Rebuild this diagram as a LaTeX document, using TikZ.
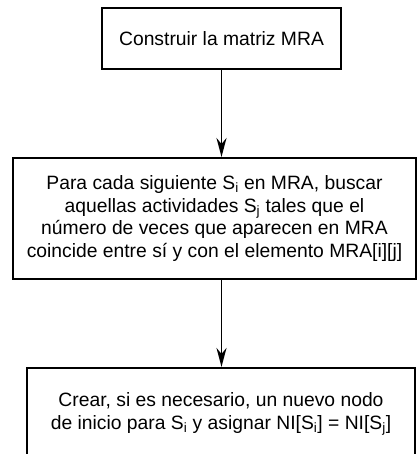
\documentclass[tikz,border=0pt]{standalone}
\usepackage{fontspec}
\setmainfont{Liberation Sans}
\usepackage{tikz}
\usetikzlibrary{arrows.meta, positioning}
\tikzstyle{paso}=[draw, line width=1.9pt, align=center, inner sep=0pt,
    font=\fontsize{19.3}{22.7}\selectfont]
\tikzstyle{flecha}=[line width=1.9pt,
    -{Stealth[length=19pt, width=10pt, inset=6pt]}]
\def\blockdist{88}
\newcommand{\Sub}[1]{S\textsubscript{#1}}

\begin{document}
\begin{tikzpicture}[x=1pt, y=1pt]
    \useasboundingbox (0,0) rectangle (418,-454);
    \clip (0,0) rectangle (418,-454);
    \node (matriz) [paso, minimum width=239pt, minimum height=61pt] at (221.5,-38.5)
        {Construir la matriz MRA};
    \path (matriz.south)+(-7,-\blockdist-60.5) node (buscar) [paso,
        minimum width=403pt, minimum height=121pt]
        {Para cada siguiente \Sub{i} en MRA, buscar\\
         aquellas actividades \Sub{j} tales que el\\
         número de veces que aparecen en MRA\\
         coincide entre sí y con el elemento MRA[i][j]};
    \path (buscar.south)+(6.5,-\blockdist-46) node (crear) [paso,
        minimum width=388pt, minimum height=92pt]
        {Crear, si es necesario, un nuevo nodo\\
         de inicio para \Sub{i} y asignar NI[\Sub{i}] = NI[\Sub{j}]};
    \draw[flecha] (matriz.south) -- (matriz.south |- buscar.north);
    \draw[flecha] (matriz.south |- buscar.south) -- (matriz.south |- crear.north);
\end{tikzpicture}
\end{document}
